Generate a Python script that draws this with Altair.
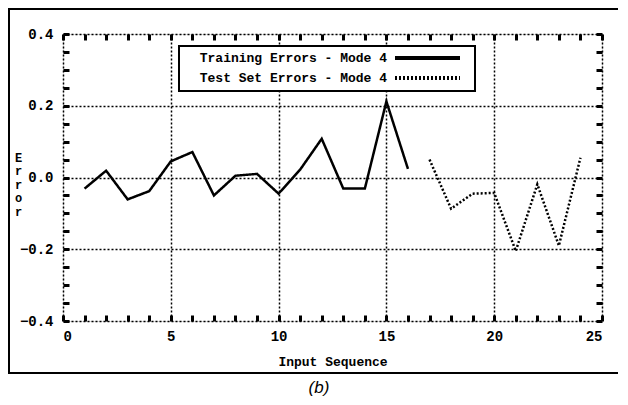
import altair as alt
import pandas as pd

train_name = "Training Errors - Mode 4"
test_name = "Test Set Errors - Mode 4"

train_x = list(range(1, 17))
train_y = [-0.031, 0.019, -0.061, -0.038, 0.045, 0.071, -0.050, 0.005,
           0.010, -0.045, 0.022, 0.108, -0.031, -0.031, 0.212, 0.024]
test_x = list(range(17, 25))
test_y = [0.050, -0.087, -0.045, -0.043, -0.205, -0.019, -0.190, 0.055]

x_ticks = list(range(0, 26))
y_ticks = [round(-0.4 + 0.05 * i, 2) for i in range(17)]

df = pd.DataFrame({
    "series": [train_name] * len(train_x) + [test_name] * len(test_x),
    "x": train_x + test_x,
    "y": train_y + test_y,
})

FONT = "Liberation Mono"

xscale = alt.Scale(domain=[0, 25], nice=False, zero=False)
yscale = alt.Scale(domain=[-0.4, 0.4], nice=False, zero=False)

major_x = "datum.value % 5 === 0"
major_y = "abs(round(datum.value * 20)) % 4 === 0"

x_axis = alt.Axis(
    values=x_ticks, orient="bottom", title="Input Sequence",
    labelExpr="datum.value % 5 === 0 ? datum.label : ''",
    labelFont=FONT, labelFontSize=14, labelFontWeight="bold", labelColor="black",
    titleFont=FONT, titleFontSize=13, titleFontWeight="bold", titleColor="black",
    titlePadding=12,
    domain=False, ticks=True, tickColor="black", tickWidth=3,
    tickSize={"expr": "-6"}, labelPadding=14,
    grid=True, gridColor="black", gridDash=[2, 2], gridWidth=1.5,
    gridOpacity={"condition": {"test": major_x, "value": 1}, "value": 0},
)
y_axis = alt.Axis(
    values=y_ticks, orient="left", title=["E", "r", "r", "o", "r"],
    labelExpr="abs(round(datum.value * 20)) % 4 === 0 ? format(datum.value, '.1f') : ''",
    labelFont=FONT, labelFontSize=14, labelFontWeight="bold", labelColor="black",
    titleFont=FONT, titleFontSize=12, titleFontWeight="bold", titleColor="black",
    titleAngle=0, titleLineHeight=13.5, titleX=-45, titleY=123,
    titleAlign="center", titleBaseline="middle",
    domain=False, ticks=True, tickColor="black", tickWidth=3,
    tickSize={"expr": "-6"}, labelPadding=16,
    grid=True, gridColor="black", gridDash=[2, 2], gridWidth=1.5,
    gridOpacity={"condition": {"test": major_y, "value": 1}, "value": 0},
)

lines = alt.Chart(df).mark_line(color="black", strokeWidth=2.5).encode(
    x=alt.X("x:Q", scale=xscale, axis=x_axis),
    y=alt.Y("y:Q", scale=yscale, axis=y_axis),
    detail="series:N",
    strokeDash=alt.StrokeDash(
        "series:N",
        scale=alt.Scale(domain=[train_name, test_name], range=[[1, 0], [2, 2]]),
        legend=None,
    ),
)

mirror = alt.Chart(df).mark_point(opacity=0).encode(
    x=alt.X("x:Q", scale=xscale, axis=alt.Axis(
        values=x_ticks, orient="top", labels=False, title=None, domain=False,
        grid=False, tickColor="black", tickWidth=3, tickSize={"expr": "-6"})),
    y=alt.Y("y:Q", scale=yscale, axis=alt.Axis(
        values=y_ticks, orient="right", labels=False, title=None, domain=False,
        grid=False, tickColor="black", tickWidth=3, tickSize={"expr": "-6"})),
)

# legend (gnuplot style: label on the left, line sample on the right)
leg_box = alt.Chart(df).mark_rect(fill="white", stroke="black", strokeWidth=2).encode(
    x=alt.value(116), x2=alt.value(412), y=alt.value(12), y2=alt.value(57),
)
leg_text1 = alt.Chart(pd.DataFrame({"t": [train_name]})).mark_text(
    align="right", baseline="middle", font=FONT, fontSize=13, fontWeight="bold", color="black",
).encode(x=alt.value(324), y=alt.value(24), text="t:N")
leg_text2 = alt.Chart(pd.DataFrame({"t": [test_name]})).mark_text(
    align="right", baseline="middle", font=FONT, fontSize=13, fontWeight="bold", color="black",
).encode(x=alt.value(324), y=alt.value(44), text="t:N")
leg_line1 = alt.Chart(df).mark_rule(color="black", strokeWidth=2.5).encode(
    x=alt.value(332), x2=alt.value(397), y=alt.value(24),
)
leg_line2 = alt.Chart(df).mark_rule(color="black", strokeWidth=2.5, strokeDash=[2, 2]).encode(
    x=alt.value(332), x2=alt.value(397), y=alt.value(44),
)

frame = alt.Chart(df).mark_rect(filled=False, stroke="black", strokeWidth=2).encode(
    x=alt.value(-54), x2=alt.value(562), y=alt.value(-25), y2=alt.value(339),
)

caption = alt.Chart(pd.DataFrame({"t": ["(b)"]})).mark_text(
    font="Liberation Sans", fontSize=17, fontStyle="italic", color="black",
    baseline="middle",
).encode(x=alt.value(256), y=alt.value(354), text="t:N")

chart = alt.layer(
    lines, mirror, leg_box, leg_text1, leg_text2, leg_line1, leg_line2, frame, caption
).resolve_axis(
    x="independent", y="independent"
).properties(
    width=539, height=287,
    padding={"left": 55, "top": 26, "right": 16, "bottom": 76},
    autosize=alt.AutoSizeParams(type="none"),
).configure_view(stroke="black", strokeWidth=3).configure(background="white")

chart.save("out.html", embed_options={"renderer": "svg", "actions": False})
